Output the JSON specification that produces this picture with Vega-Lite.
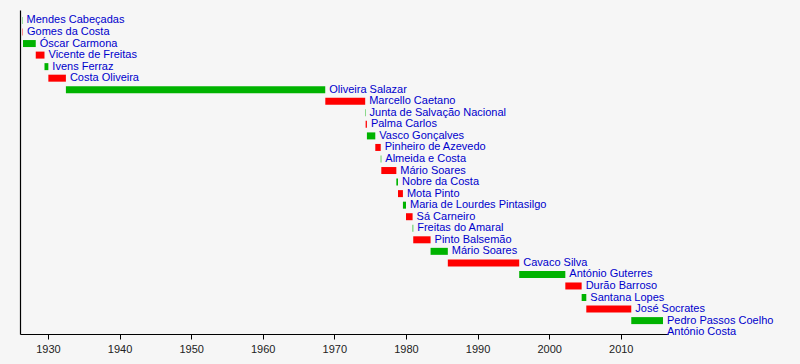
{
  "$schema": "https://vega.github.io/schema/vega-lite/v6.json",
  "autosize": "none",
  "width": 648,
  "height": 324,
  "padding": {"left": 20, "top": 10, "right": 132, "bottom": 30},
  "background": "#f6f6f6",
  "config": {"view": {"stroke": null}},
  "data": {"values": [
    {"name": "Mendes Cabeçadas", "start": 1926.41, "end": 1926.46, "alt": "A"},
    {"name": "Gomes da Costa", "start": 1926.46, "end": 1926.52, "alt": "B"},
    {"name": "Óscar Carmona", "start": 1926.52, "end": 1928.30, "alt": "A"},
    {"name": "Vicente de Freitas", "start": 1928.30, "end": 1929.52, "alt": "B"},
    {"name": "Ivens Ferraz", "start": 1929.52, "end": 1930.06, "alt": "A"},
    {"name": "Costa Oliveira", "start": 1930.06, "end": 1932.51, "alt": "B"},
    {"name": "Oliveira Salazar", "start": 1932.51, "end": 1968.73, "alt": "A"},
    {"name": "Marcello Caetano", "start": 1968.74, "end": 1974.31, "alt": "B"},
    {"name": "Junta de Salvação Nacional", "start": 1974.31, "end": 1974.37, "alt": "A"},
    {"name": "Palma Carlos", "start": 1974.37, "end": 1974.55, "alt": "B"},
    {"name": "Vasco Gonçalves", "start": 1974.55, "end": 1975.72, "alt": "A"},
    {"name": "Pinheiro de Azevedo", "start": 1975.72, "end": 1976.48, "alt": "B"},
    {"name": "Almeida e Costa", "start": 1976.48, "end": 1976.56, "alt": "A"},
    {"name": "Mário Soares", "start": 1976.56, "end": 1978.66, "alt": "B"},
    {"name": "Nobre da Costa", "start": 1978.66, "end": 1978.89, "alt": "A"},
    {"name": "Mota Pinto", "start": 1978.89, "end": 1979.58, "alt": "B"},
    {"name": "Maria de Lourdes Pintasilgo", "start": 1979.58, "end": 1980.01, "alt": "A"},
    {"name": "Sá Carneiro", "start": 1980.01, "end": 1980.93, "alt": "B"},
    {"name": "Freitas do Amaral", "start": 1980.93, "end": 1981.02, "alt": "A"},
    {"name": "Pinto Balsemão", "start": 1981.02, "end": 1983.44, "alt": "B"},
    {"name": "Mário Soares", "start": 1983.44, "end": 1985.85, "alt": "A"},
    {"name": "Cavaco Silva", "start": 1985.85, "end": 1995.82, "alt": "B"},
    {"name": "António Guterres", "start": 1995.82, "end": 2002.26, "alt": "A"},
    {"name": "Durão Barroso", "start": 2002.26, "end": 2004.54, "alt": "B"},
    {"name": "Santana Lopes", "start": 2004.54, "end": 2005.19, "alt": "A"},
    {"name": "José Socrates", "start": 2005.19, "end": 2011.47, "alt": "B"},
    {"name": "Pedro Passos Coelho", "start": 2011.47, "end": 2015.90, "alt": "A"},
    {"name": "António Costa", "start": 2015.90, "end": 2015.90, "alt": "B"}
  ]},
  "encoding": {
    "y": {
      "field": "start", "type": "ordinal", "sort": "ascending",
      "scale": {"type": "point", "padding": 0.533, "align": 0.85},
      "axis": {"domain": true, "domainColor": "#000000", "domainWidth": 1.2, "ticks": false, "labels": false, "title": null, "grid": false}
    }
  },
  "layer": [
    {
      "mark": {"type": "bar", "size": 7, "orient": "horizontal"},
      "encoding": {
        "x": {
          "field": "start", "type": "quantitative",
          "scale": {"domain": [1926.1, 2016.6], "nice": false, "zero": false},
          "axis": {"values": [1930, 1940, 1950, 1960, 1970, 1980, 1990, 2000, 2010], "format": "d", "title": null, "grid": false,
                   "domainColor": "#000000", "domainWidth": 1.2, "tickColor": "#000000", "tickSize": 5, "labelFont": "Liberation Sans", "labelFontSize": 11, "labelColor": "#222222", "labelPadding": 4}
        },
        "x2": {"field": "end"},
        "color": {"field": "alt", "type": "nominal", "scale": {"domain": ["A", "B"], "range": ["#00b300", "#ff0000"]}, "legend": null}
      }
    },
    {
      "mark": {"type": "text", "align": "left", "baseline": "middle", "dx": 4, "font": "Liberation Sans", "fontSize": 11, "color": "#0000cc"},
      "encoding": {
        "x": {"field": "end", "type": "quantitative"},
        "text": {"field": "name"}
      }
    }
  ]
}
